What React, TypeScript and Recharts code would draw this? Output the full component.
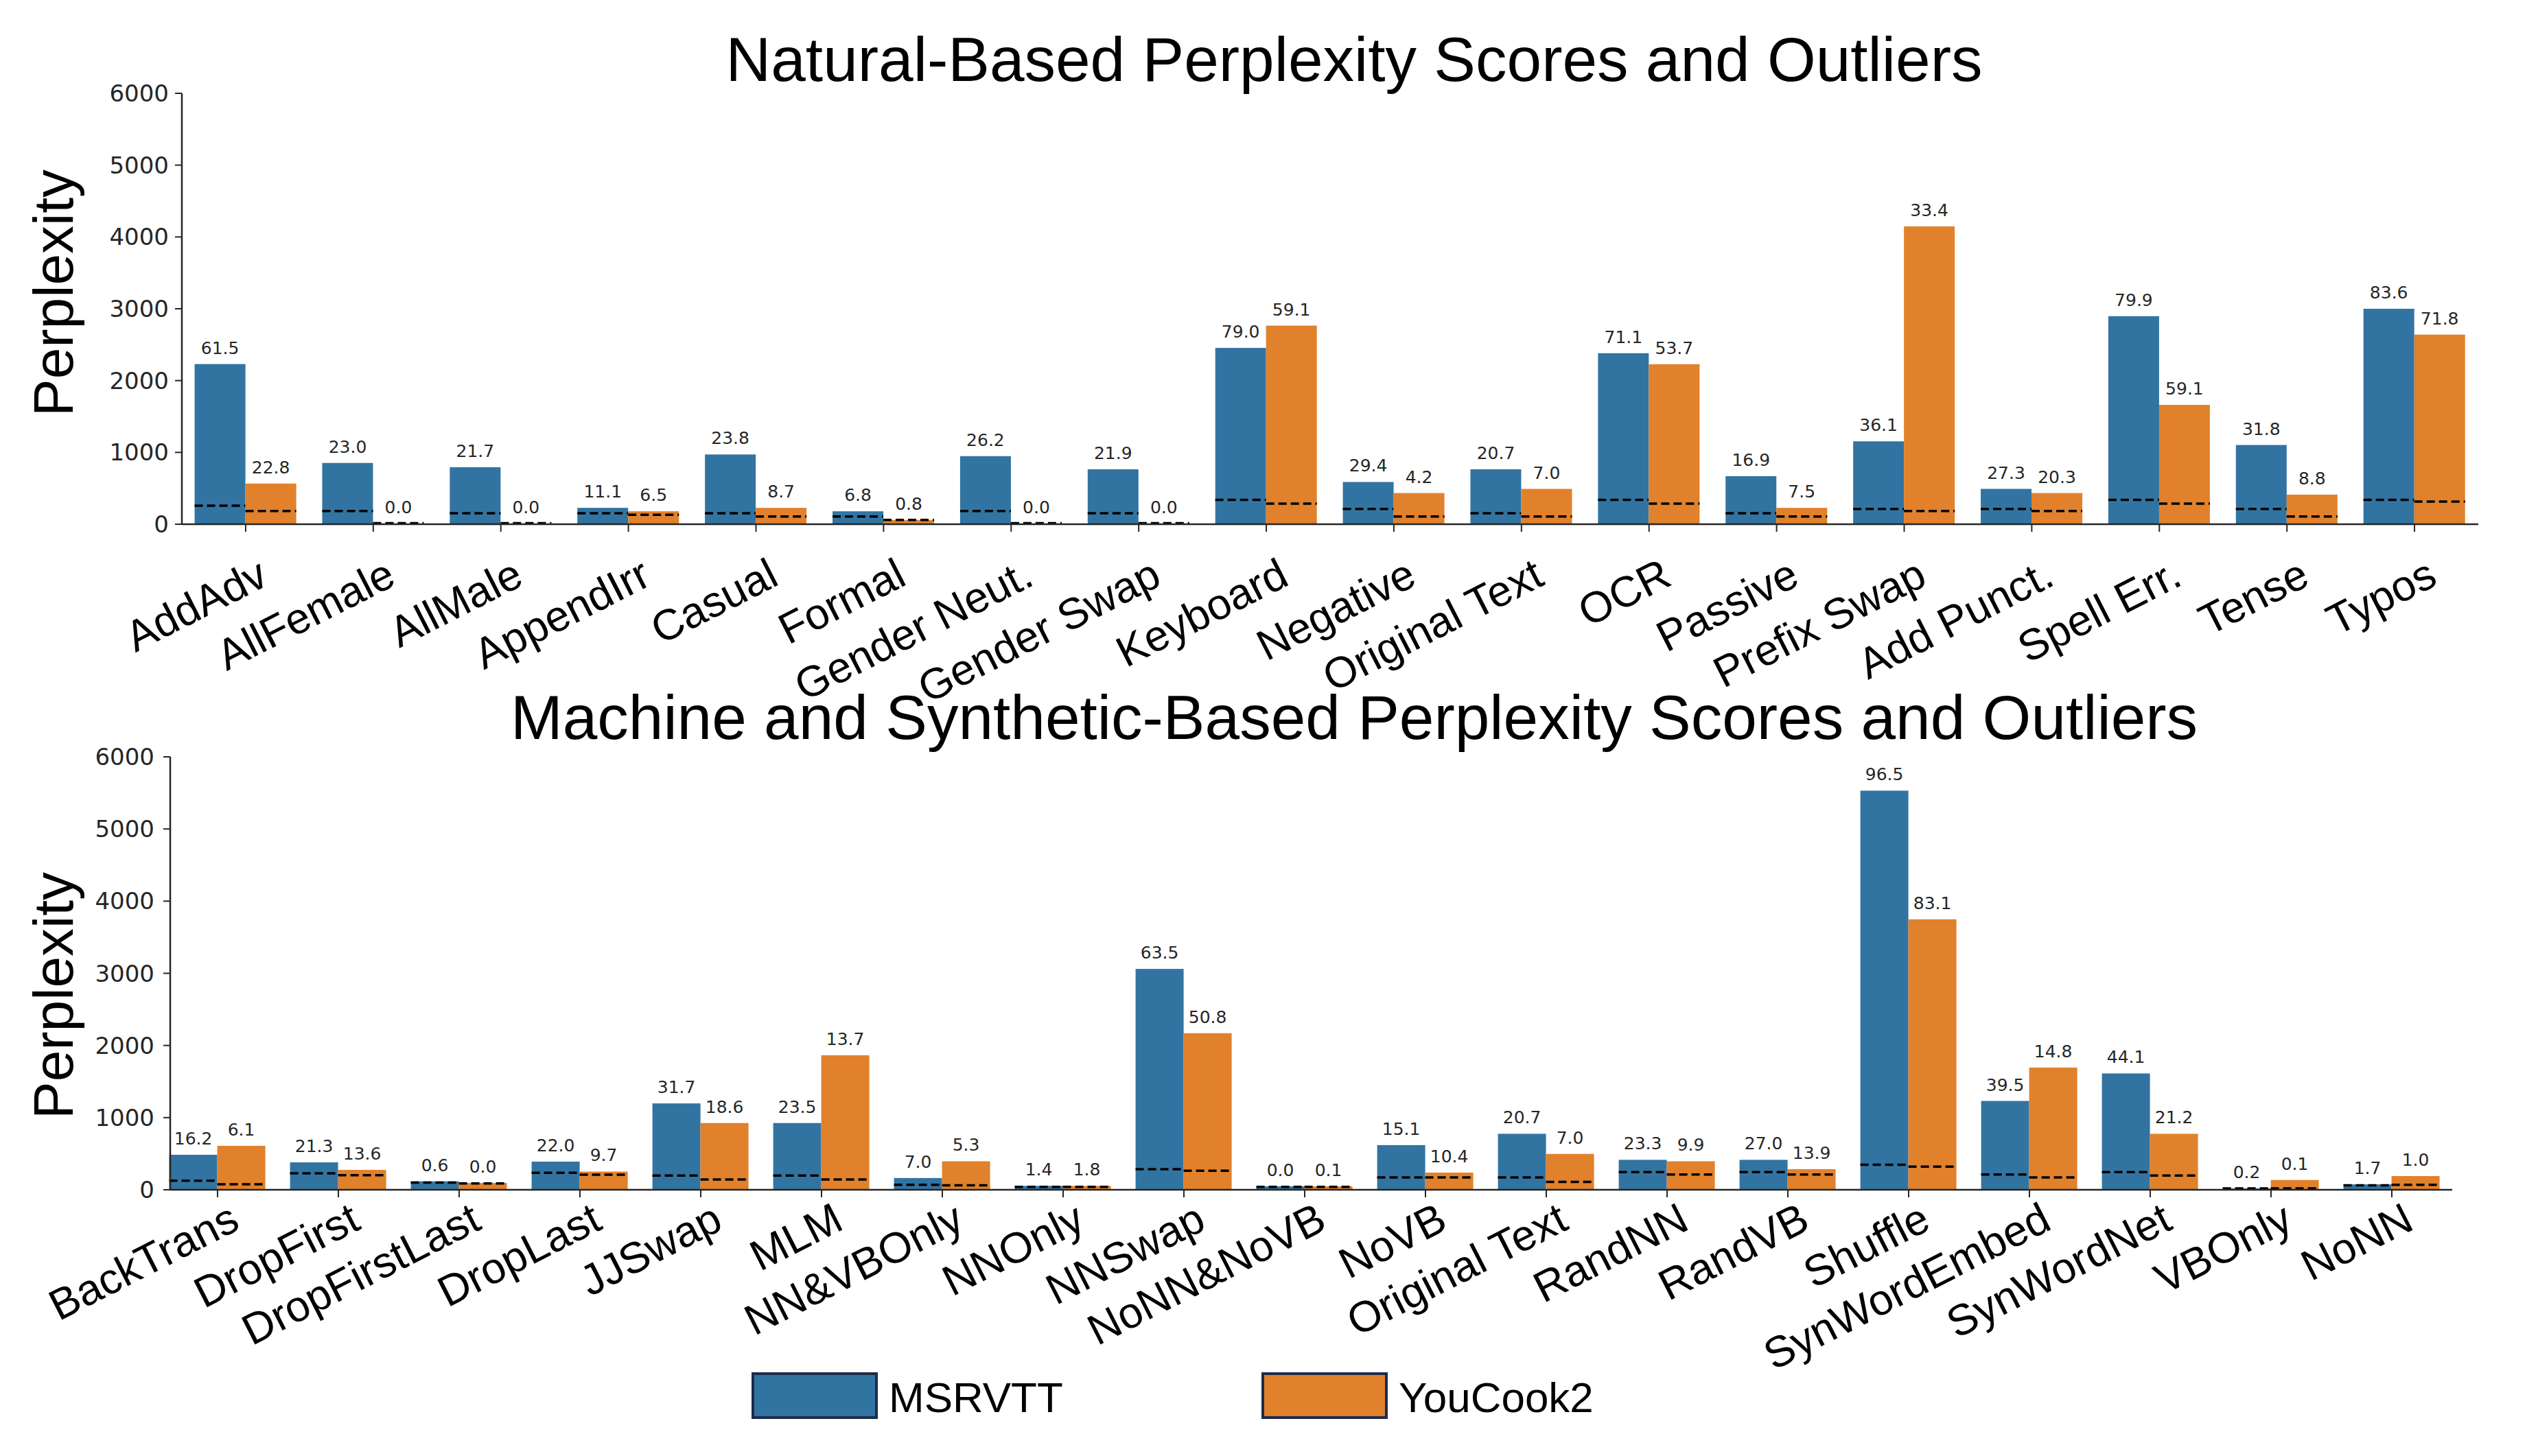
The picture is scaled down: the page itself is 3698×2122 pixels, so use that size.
import { BarChart, Bar, XAxis, YAxis, LabelList } from 'recharts';

// ---- Natural-based perturbations ----
const naturalCats = [
  'AddAdv', 'AllFemale', 'AllMale', 'AppendIrr', 'Casual', 'Formal', 'Gender Neut.', 'Gender Swap', 'Keyboard',
  'Negative', 'Original Text', 'OCR', 'Passive', 'Prefix Swap', 'Add Punct.', 'Spell Err.', 'Tense', 'Typos',
];
const naturalMsr = [2230, 853, 794, 228, 971, 180, 948, 765, 2455, 588, 765, 2381, 669, 1154, 492, 2897, 1103, 3000];
const naturalYou = [566, 8, 8, 180, 228, 59, 8, 8, 2765, 434, 492, 2228, 228, 4147, 434, 1662, 412, 2640];
const naturalMsrMed = [257, 184, 154, 154, 154, 107, 184, 154, 338, 213, 154, 338, 154, 213, 213, 338, 213, 338];
const naturalYouMed = [184, 15, 15, 132, 107, 59, 15, 15, 287, 107, 107, 287, 107, 184, 184, 287, 107, 316];
const naturalMsrLab = ['61.5', '23.0', '21.7', '11.1', '23.8', '6.8', '26.2', '21.9', '79.0', '29.4', '20.7', '71.1', '16.9', '36.1', '27.3', '79.9', '31.8', '83.6'];
const naturalYouLab = ['22.8', '0.0', '0.0', '6.5', '8.7', '0.8', '0.0', '0.0', '59.1', '4.2', '7.0', '53.7', '7.5', '33.4', '20.3', '59.1', '8.8', '71.8'];

// ---- Machine and synthetic perturbations ----
const machineCats = [
  'BackTrans', 'DropFirst', 'DropFirstLast', 'DropLast', 'JJSwap', 'MLM', 'NN&VBOnly', 'NNOnly', 'NNSwap', 'NoNN&NoVB',
  'NoVB', 'Original Text', 'RandNN', 'RandVB', 'Shuffle', 'SynWordEmbed', 'SynWordNet', 'VBOnly', 'NoNN',
];
const machineMsr = [485, 380, 117, 390, 1197, 925, 163, 54, 3061, 48, 619, 776, 415, 415, 5531, 1231, 1612, 20, 75];
const machineYou = [609, 276, 95, 252, 925, 1864, 395, 54, 2170, 48, 238, 497, 395, 286, 3748, 1694, 776, 136, 190];
const machineMsrMed = [126, 228, 100, 235, 197, 197, 68, 41, 286, 41, 170, 170, 245, 245, 347, 211, 245, 20, 61];
const machineYouMed = [76, 203, 88, 210, 143, 143, 61, 41, 265, 41, 170, 109, 211, 211, 320, 170, 197, 20, 68];
const machineMsrLab = ['16.2', '21.3', '0.6', '22.0', '31.7', '23.5', '7.0', '1.4', '63.5', '0.0', '15.1', '20.7', '23.3', '27.0', '96.5', '39.5', '44.1', '0.2', '1.7'];
const machineYouLab = ['6.1', '13.6', '0.0', '9.7', '18.6', '13.7', '5.3', '1.8', '50.8', '0.1', '10.4', '7.0', '9.9', '13.9', '83.1', '14.8', '21.2', '0.1', '1.0'];

const yTicks = [0, 1000, 2000, 3000, 4000, 5000, 6000];

const BLUE = '#3274a1';
const ORANGE = '#e1812c';
const AXIS = '#262626';
const SANS = '"Liberation Sans", Arial, sans-serif';

const buildRows = (
  cats: string[], msr: number[], you: number[], msrMed: number[], youMed: number[], msrLab: string[], youLab: string[],
) => cats.map((name, i) => ({
  name, msr: msr[i], you: you[i], msrMed: msrMed[i], youMed: youMed[i], msrLab: msrLab[i], youLab: youLab[i],
}));

const naturalRows = buildRows(naturalCats, naturalMsr, naturalYou, naturalMsrMed, naturalYouMed, naturalMsrLab, naturalYouLab);
const machineRows = buildRows(machineCats, machineMsr, machineYou, machineMsrMed, machineYouMed, machineMsrLab, machineYouLab);

// bar rect plus the dashed outlier line drawn across it
const barWithMedian = (key: string, medKey: string) => (props: any) => {
  const { x, y, width, height, fill, payload } = props;
  const value = payload[key];
  const base = y + height;
  const my = base - (payload[medKey] / value) * height;
  return (
    <g>
      <rect x={x} y={y} width={width} height={height} fill={fill} />
      <line x1={x} x2={x + width} y1={my} y2={my} stroke="#000" strokeWidth={3.5} strokeDasharray="12 6" />
    </g>
  );
};

const SlantTick = (props: any) => {
  const { x, y, payload, offX, offY } = props;
  const px = x + offX;
  const py = y + offY;
  return (
    <text x={px} y={py} textAnchor="end" transform={`rotate(-27 ${px} ${py})`}
      fontFamily={SANS} fontSize={63} fill="#000">
      {payload.value}
    </text>
  );
};

const labelStyle = { fontFamily: '"DejaVu Sans", sans-serif', fontSize: 25, fill: AXIS };

type PanelProps = {
  rows: any[];
  top: number;
  height: number;
  margin: { top: number; right: number; bottom: number; left: number };
  xHeight: number;
  padLeft: number;
  yMargin: number;
  offX: number;
  offY: number;
};

const Panel = ({ rows, top, height, margin, xHeight, padLeft, yMargin, offX, offY }: PanelProps) => (
  <div style={{ position: 'absolute', left: 0, top }}>
    <BarChart width={3698} height={height} data={rows} margin={margin} barCategoryGap="10%" barGap={0}>
      <XAxis
        dataKey="name"
        interval={0}
        height={xHeight}
        padding={{ left: padLeft, right: 0 }}
        tickSize={11}
        tickMargin={2}
        axisLine={{ stroke: AXIS, strokeWidth: 2.5 }}
        tickLine={{ stroke: AXIS, strokeWidth: 2 }}
        tick={(p: any) => <SlantTick {...p} offX={offX} offY={offY} />}
      />
      <YAxis
        width={120}
        domain={[0, 6000]}
        ticks={yTicks}
        tickSize={10}
        tickMargin={yMargin}
        axisLine={{ stroke: AXIS, strokeWidth: 2.5 }}
        tickLine={{ stroke: AXIS, strokeWidth: 2 }}
        tick={{ fontFamily: '"DejaVu Sans", sans-serif', fontSize: 34, fill: AXIS }}
      />
      <Bar dataKey="msr" name="MSRVTT" fill={BLUE} isAnimationActive={false} shape={barWithMedian('msr', 'msrMed')}>
        <LabelList dataKey="msrLab" position="top" offset={15} style={labelStyle} />
      </Bar>
      <Bar dataKey="you" name="YouCook2" fill={ORANGE} isAnimationActive={false} shape={barWithMedian('you', 'youMed')}>
        <LabelList dataKey="youLab" position="top" offset={15} style={labelStyle} />
      </Bar>
    </BarChart>
  </div>
);

const Title = ({ text, top }: { text: string; top: number }) => (
  <div style={{
    position: 'absolute', left: 473, top, width: 3000, textAlign: 'center',
    fontFamily: SANS, fontSize: 91, lineHeight: 1, color: '#000', whiteSpace: 'nowrap',
  }}>
    {text}
  </div>
);

const YLabel = ({ cy }: { cy: number }) => (
  <div style={{
    position: 'absolute', left: 78, top: cy, transform: 'translate(-50%, -50%) rotate(-90deg)',
    fontFamily: SANS, fontSize: 82, lineHeight: 1, color: '#000', whiteSpace: 'nowrap',
  }}>
    Perplexity
  </div>
);

const legendItems = [
  { label: 'MSRVTT', color: BLUE, left: 1095 },
  { label: 'YouCook2', color: ORANGE, left: 1838 },
];

export default function App() {
  return (
    <div style={{ position: 'absolute', left: 0, top: 0, width: 3698, height: 2122, background: '#fff', overflow: 'hidden' }}>
      <Panel rows={naturalRows} top={0} height={1080}
        margin={{ top: 136, right: 87, bottom: 16, left: 145 }} xHeight={300} padLeft={0}
        yMargin={9} offX={36} offY={74} />
      <Panel rows={machineRows} top={1000} height={1122}
        margin={{ top: 103, right: 125, bottom: 18, left: 128 }} xHeight={370} padLeft={-19}
        yMargin={13} offX={35} offY={43} />
      <Title text="Natural-Based Perplexity Scores and Outliers" top={41} />
      <Title text="Machine and Synthetic-Based Perplexity Scores and Outliers" top={1000} />
      <YLabel cy={427} />
      <YLabel cy={1451} />
      {legendItems.map((it) => (
        <div key={it.label}>
          <div style={{
            position: 'absolute', left: it.left, top: 2000, width: 184, height: 68, boxSizing: 'border-box',
            background: it.color, border: '4px solid #1c2b4b',
          }} />
          <div style={{
            position: 'absolute', left: it.left + 200, top: 2006, fontFamily: SANS, fontSize: 62,
            lineHeight: 1, color: '#000', whiteSpace: 'nowrap',
          }}>
            {it.label}
          </div>
        </div>
      ))}
    </div>
  );
}
